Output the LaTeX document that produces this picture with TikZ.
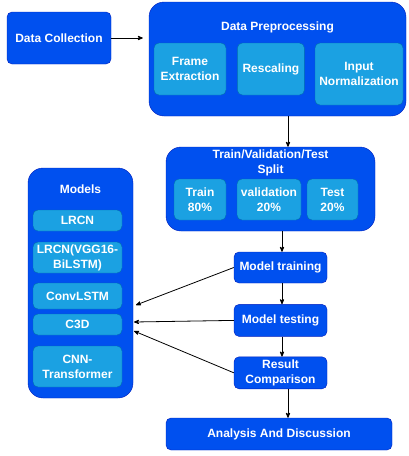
\documentclass[tikz,border=0pt]{standalone}
\usepackage{fontspec}
\setmainfont{Liberation Sans}
\usetikzlibrary{positioning,arrows}
\definecolor{dpblue}{HTML}{0050EF}
\definecolor{dpedge}{HTML}{001DBC}
\definecolor{subblue}{HTML}{1BA1E2}
\definecolor{subedge}{HTML}{006EAF}
\tikzset{
>=stealth',
  bigbox/.style={
    rectangle,
    rounded corners=15pt,
    fill=dpblue,
    draw=dpedge},
  stepbox/.style={
    rectangle,
    rounded corners=5pt,
    fill=dpblue,
    draw=dpedge,
    text=white,
    align=center,
    inner sep=0pt},
  subbox/.style={
    rectangle,
    rounded corners=5pt,
    fill=subblue,
    draw=subedge,
    % draw=none,
    text=white,
    align=center,
    inner sep=0pt},
  title/.style={text=white, align=center, inner sep=0pt},
  line/.style={draw, ->, line width=0.8pt},
}

\begin{document}
\begin{tikzpicture}
[x=1pt, y=-1pt, font=\fontsize{12}{15}\selectfont\bfseries]
\useasboundingbox (0,0) rectangle (408,456);

\node[stepbox, minimum width=104pt, minimum height=52pt] (collect) at (59,38) {Data Collection};

% preprocessing
\node[bigbox, minimum width=257pt, minimum height=114pt] (prep) at (277.5,59) {};
\node[title] (preptitle) at (277.5,27) {Data Preprocessing};
\node[subbox, minimum width=72pt, minimum height=52pt] (frame) at (190,69) {Frame\\Extraction};
\node[subbox, minimum width=67pt, minimum height=52pt, right=11pt of frame] (rescale) {Rescaling};
\node[subbox, minimum width=88pt, minimum height=62pt] (norm) at (359,74) {Input\\Normalization};

% split
\node[bigbox, minimum width=209pt, minimum height=84pt] (split) at (270.5,189) {};
\node[title] (splittitle) at (270.5,163) {Train/Validation/Test\\Split};
\node[subbox, minimum width=52pt, minimum height=41pt] (train) at (200,199.5) {Train\\80\%};
\node[subbox, minimum width=64pt, minimum height=41pt] (valid) at (269,199.5) {validation\\20\%};
\node[subbox, minimum width=51pt, minimum height=41pt] (test) at (332.5,199.5) {Test\\20\%};

% steps
\node[stepbox, minimum width=93pt, minimum height=31pt] (training) at (280.5,267.5) {Model training};
\node[stepbox, minimum width=93pt, minimum height=32pt, below=21pt of training] (testing) {Model testing};
\node[stepbox, minimum width=93pt, minimum height=32pt, below=20pt of testing] (result) {Result\\Comparison};
\node[stepbox, minimum width=226pt, minimum height=32pt] (analysis) at (279,434) {Analysis And Discussion};

% models
\node[bigbox, minimum width=105pt, minimum height=230pt] (models) at (80.5,283) {};
\node[title] (modelstitle) at (80.5,189) {Models};
\node[subbox, minimum width=89pt, minimum height=21pt] (lrcn) at (77.5,220.5) {LRCN};
\node[subbox, minimum width=89pt, minimum height=31pt] (vgg) at (77.5,257.5) {LRCN(VGG16-\\BiLSTM)};
\node[subbox, minimum width=89pt, minimum height=26pt] (convlstm) at (77.5,296) {ConvLSTM};
\node[subbox, minimum width=89pt, minimum height=21pt] (c3d) at (77.5,324.5) {C3D};
\node[subbox, minimum width=89pt, minimum height=41pt] (cnntr) at (77.5,366.5) {CNN-\\Transformer};

\coordinate (in1) at (136,305);
\coordinate (in2) at (134,322);
\coordinate (in3) at (134,331);

\draw[line, shorten >=6pt] (collect.east) -- (collect.east -| prep.west);
\draw[line] ([xshift=10.5pt]prep.south) -- ([xshift=17.5pt]split.north);
\draw[line] ([xshift=1.5pt]split.south -| training.north) -- ([xshift=1.5pt]training.north);
\draw[line] ([xshift=1.5pt]training.south) -- ([xshift=1.5pt]testing.north);
\draw[line] ([xshift=1.5pt]testing.south) -- ([xshift=1.5pt]result.north);
\draw[line] ([xshift=7.5pt]result.south) -- ([xshift=7.5pt]result.south |- analysis.north);
\draw[line] (training.west) -- (in1);
\draw[line] (testing.west) -- (in2);
\draw[line] (result.west) -- (in3);

\end{tikzpicture}
\end{document}
